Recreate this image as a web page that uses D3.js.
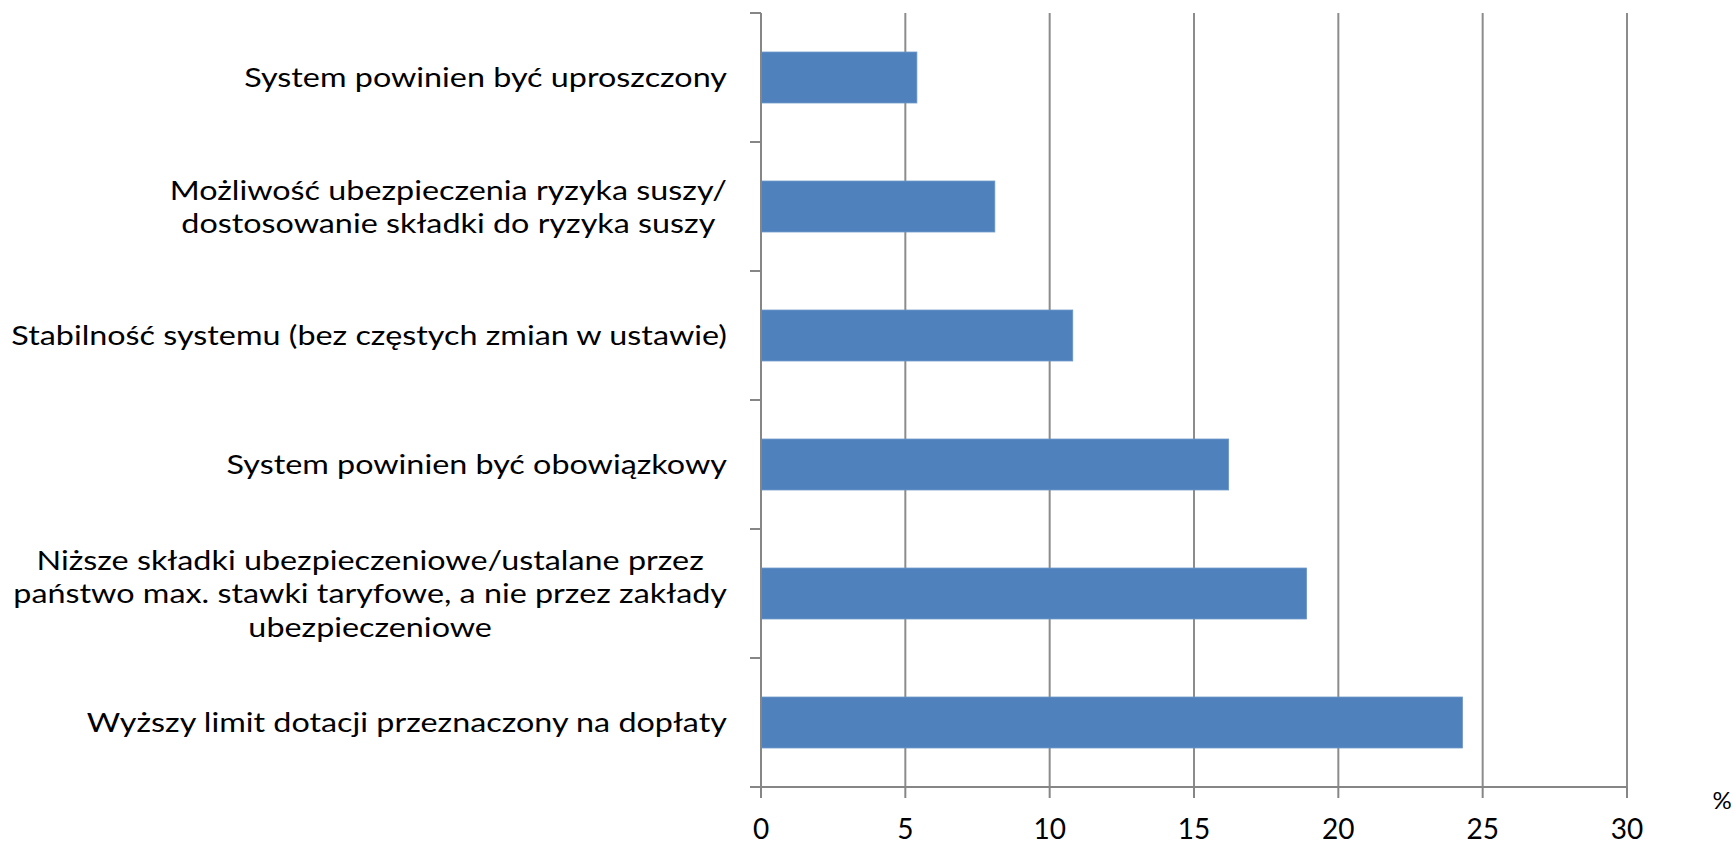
<!DOCTYPE html>
<html><head><meta charset="utf-8">
<script src="https://cdn.jsdelivr.net/npm/d3@7"></script>
<style>body{margin:0;background:#fff}svg{display:block}</style>
</head><body>
<svg id="c" width="1735" height="845"></svg>
<script>
const categories = [
  ["System powinien być uproszczony"],
  ["Możliwość ubezpieczenia ryzyka suszy/", "dostosowanie składki do ryzyka suszy "],
  ["Stabilność systemu (bez częstych zmian w ustawie)"],
  ["System powinien być obowiązkowy"],
  ["Niższe składki ubezpieczeniowe/ustalane przez", "państwo max. stawki taryfowe, a nie przez zakłady", "ubezpieczeniowe"],
  ["Wyższy limit dotacji przeznaczony na dopłaty"]
];
const values = [5.4, 8.1, 10.8, 16.2, 18.9, 24.3];
const xTicks = [0, 5, 10, 15, 20, 25, 30];
const unitLabel = "%";

const svg = d3.select("#c");
const pL = 761, pR = 1627, pT = 13, pB = 787;
const font = "Lato, 'Open Sans', sans-serif";
const fs = 27.5;
const sx = 1.175;

const x = d3.scaleLinear().domain([0, 30]).range([pL, pR]);
const y = d3.scaleBand().domain(d3.range(categories.length)).range([pT, pB]).paddingInner(0.605).paddingOuter(0.3025);
const yb = d3.scaleBand().domain(d3.range(categories.length)).range([pT, pB]);

// gridlines
svg.append("g").selectAll("line").data(xTicks.slice(1)).join("line")
  .attr("x1", d => x(d)).attr("x2", d => x(d)).attr("y1", pT).attr("y2", pB)
  .attr("stroke", "#8c8c8c").attr("stroke-width", 2);

// bars
svg.append("g").selectAll("rect").data(values).join("rect")
  .attr("x", x(0)).attr("y", (d, i) => y(i)).attr("width", d => x(d) - x(0)).attr("height", y.bandwidth())
  .attr("fill", "#4F81BD").attr("stroke", "#6b96c8").attr("stroke-width", 0.8);

// left axis line and ticks
const ag = svg.append("g").attr("stroke", "#868686").attr("stroke-width", 2);
ag.append("line").attr("x1", pL).attr("x2", pL).attr("y1", pT).attr("y2", pB);
const bounds = d3.range(categories.length + 1).map(i => i < categories.length ? yb(i) : pB);
ag.selectAll("line.t").data(bounds).join("line").attr("class", "t")
  .attr("x1", pL - 11).attr("x2", pL).attr("y1", d => d).attr("y2", d => d);
// bottom axis
ag.append("line").attr("x1", pL).attr("x2", pR).attr("y1", pB).attr("y2", pB);
ag.selectAll("line.b").data(xTicks).join("line").attr("class", "b")
  .attr("x1", d => x(d)).attr("x2", d => x(d)).attr("y1", pB).attr("y2", pB + 11);

// x tick labels
svg.append("g").selectAll("text").data(xTicks).join("text")
  .attr("x", d => x(d)).attr("y", 839).attr("text-anchor", "middle")
  .attr("font-family", font).attr("font-size", 28).attr("fill", "#000").text(d => d);

svg.append("text").attr("x", 1722).attr("y", 809).attr("text-anchor", "middle")
  .attr("font-family", font).attr("font-size", 24).text(unitLabel);

// category labels: block right-aligned, lines centered, horizontally widened to match reference face
const labelRight = 727, lh = 33.5;
categories.forEach((lines, i) => {
  const cy = yb(i) + yb.bandwidth() / 2;
  const g = svg.append("g");
  const ts = lines.map((t, k) => g.append("text").attr("font-family", font).attr("font-size", fs)
    .attr("text-anchor", "middle").attr("fill", "#000").attr("x", 0).text(t)
    .attr("y", cy + (k - (lines.length - 1) / 2) * lh + 10));
  const maxW = d3.max(ts, t => t.node().getComputedTextLength());
  g.attr("transform", `translate(${labelRight - maxW * sx / 2},0) scale(${sx},1)`);
});
</script>
</body></html>
